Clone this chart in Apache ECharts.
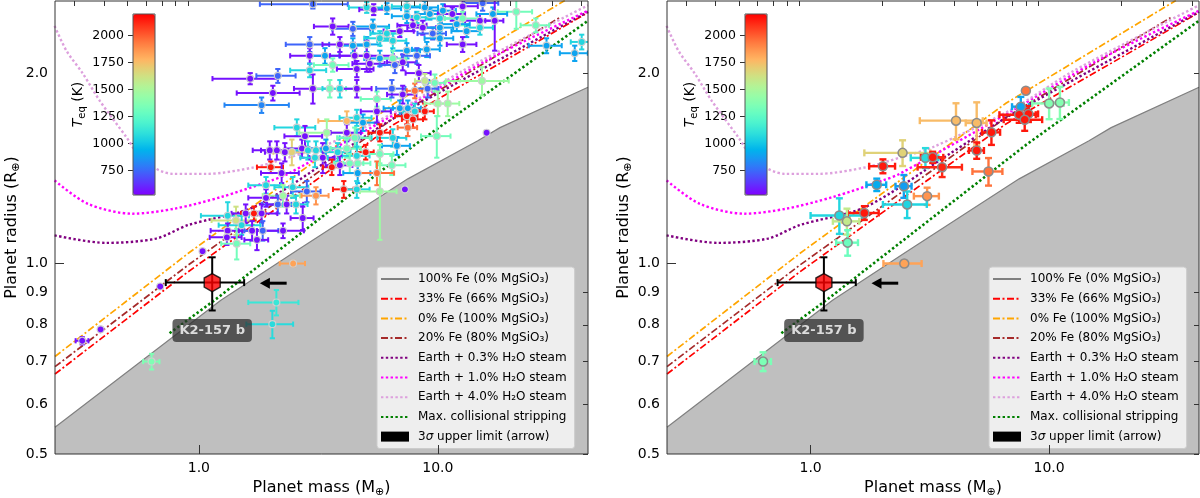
<!DOCTYPE html>
<html>
<head>
<meta charset="utf-8">
<script src="https://cdn.jsdelivr.net/npm/echarts@6/dist/echarts.min.js"></script>
<style>
  html, body { margin: 0; padding: 0; background: #fff; }
  #chart { width: 1200px; height: 498px; }
</style>
</head>
<body>
<div id="chart"></div>
<script>
// ---- model curves (mass in M_earth, radius in R_earth) ----
const feMass = [0.25, 1.236, 2.57, 7.49, 14.7, 18.2, 42.5];
const feRadius = [0.551, 0.875, 1.049, 1.361, 1.564, 1.64, 1.90];
const fe33Mass = [0.25, 0.9, 6.54, 42.5];
const fe33Radius = [0.669, 0.970, 1.659, 2.493];
const fe0Mass = [0.25, 0.9, 6.59, 34];
const fe0Radius = [0.713, 1.037, 1.792, 2.605];
const fe20Mass = [0.25, 0.9, 6.69, 32.3];
const fe20Radius = [0.687, 0.994, 1.708, 2.447];
const w03Mass = [0.249, 0.408, 0.661, 0.9, 1.71, 3.82, 7.02, 42.5];
const w03Radius = [1.108, 1.078, 1.095, 1.15, 1.23, 1.49, 1.724, 2.50];
const w1Mass = [0.249, 0.343, 0.528, 0.791, 1.24, 2.01, 2.36, 7.02, 16.2, 42.5];
const w1Radius = [1.353, 1.243, 1.199, 1.221, 1.274, 1.353, 1.386, 1.745, 2.10, 2.51];
const w4Mass = [0.249, 0.2795, 0.328, 0.385, 0.498, 0.585, 0.781, 1.077, 1.71, 2.40, 3.25, 7.02, 12.7, 42.5];
const w4Radius = [2.375, 2.168, 1.993, 1.808, 1.583, 1.454, 1.386, 1.386, 1.420, 1.473, 1.527, 1.755, 2.017, 2.56];
const stripMass = [0.754, 1.163, 8.0, 42.5];
const stripRadius = [0.776, 0.875, 1.54, 2.42];

// ---- left panel: all planets ----
const leftMass = [
  3.00, 5.04, 5.39, 6.12, 7.42, 8.82, 10.5, 12.7, 15.4, 21.3,
  7.42, 8.17, 9.26, 10.2, 11.5, 12.7, 15.0, 17.0, 17.3, 3.63,
  4.41, 5.35, 6.12, 6.93, 7.87, 8.65, 9.52, 10.2, 12.0, 13.2,
  15.0, 25.7, 2.91, 3.89, 4.41, 5.04, 5.72, 6.48, 7.42, 8.99,
  10.2, 12.7, 37.4, 40.0, 28.5, 2.91, 3.37, 4.49, 5.04, 5.72,
  6.48, 7.13, 8.17, 3.63, 4.58, 5.19, 6.61, 8.33, 1.64, 2.14,
  2.04, 1.83, 2.91, 3.00, 3.53, 3.89, 4.58, 5.56, 6.42, 7.13,
  8.01, 8.82, 9.71, 9.06, 15.3, 4.16, 4.58, 4.86, 5.56, 6.93,
  7.49, 8.01, 8.82, 7.42, 7.87, 10.0, 11.0, 2.57, 2.78, 3.43,
  4.16, 4.58, 6.48, 5.72, 7.49, 9.9, 1.98, 2.12, 2.29, 2.45,
  2.70, 2.86, 3.09, 3.40, 3.81, 4.16, 4.49, 4.99, 4.58, 6.74,
  3.30, 3.06, 2.00, 3.60, 3.89, 4.28, 4.62, 5.72, 6.42, 2.22,
  1.91, 2.47, 2.83, 4.62, 5.56, 4.04, 4.58, 5.72, 7.28, 2.25,
  1.91, 3.09, 2.14, 2.33, 2.55, 1.32, 1.43, 1.57, 1.70, 1.83,
  1.51, 1.32, 1.31, 1.44, 1.67, 1.85, 1.75, 2.25, 2.72, 16.0,
  2.48, 2.11, 2.03, 0.634, 0.325, 0.388, 0.689, 1.036
];
const leftRadius = [
  2.57, 2.54, 2.52, 2.53, 2.55, 2.54, 2.51, 2.55, 2.58, 2.50,
  2.46, 2.45, 2.48, 2.44, 2.48, 2.44, 2.42, 2.48, 2.42, 2.37,
  2.35, 2.37, 2.31, 2.33, 2.38, 2.36, 2.31, 2.36, 2.39, 2.33,
  2.36, 2.38, 2.22, 2.22, 2.21, 2.22, 2.27, 2.25, 2.17, 2.18,
  2.27, 2.22, 2.15, 2.24, 2.21, 2.13, 2.13, 2.13, 2.13, 2.11,
  2.11, 2.08, 2.13, 2.06, 2.03, 2.07, 2.06, 2.00, 1.96, 1.98,
  1.86, 1.78, 2.02, 1.89, 1.89, 1.89, 1.89, 1.82, 1.89, 1.85,
  1.875, 1.944, 1.93, 1.89, 1.944, 1.68, 1.70, 1.67, 1.74, 1.76,
  1.76, 1.74, 1.74, 1.71, 1.69, 1.79, 1.79, 1.64, 1.59, 1.61,
  1.61, 1.58, 1.58, 1.61, 1.64, 1.59, 1.51, 1.51, 1.50, 1.50,
  1.52, 1.51, 1.51, 1.52, 1.50, 1.52, 1.58, 1.50, 1.48, 1.535,
  1.47, 1.47, 1.42, 1.42, 1.43, 1.44, 1.44, 1.49, 1.43, 1.39,
  1.33, 1.32, 1.30, 1.39, 1.39, 1.31, 1.31, 1.30, 1.31, 1.28,
  1.27, 1.28, 1.24, 1.24, 1.24, 1.19, 1.17, 1.20, 1.20, 1.20,
  1.15, 1.127, 1.10, 1.075, 1.127, 1.127, 1.09, 1.127, 1.18, 1.61,
  1.00, 0.868, 0.802, 0.700, 0.755, 0.787, 0.920, 1.046
];
const leftMassErr = [
  1.2, 0.8, 0.7, 0.9, 1.0, 1.2, 1.4, 2.0, 2.5, 3.5,
  1.0, 1.0, 1.2, 1.3, 1.5, 2.0, 2.0, 2.5, 1.5, 0.6,
  0.8, 0.9, 0.9, 1.0, 1.1, 1.2, 1.3, 1.4, 1.6, 1.8,
  2.0, 3.5, 0.6, 0.6, 0.6, 0.7, 0.8, 0.9, 1.0, 1.2,
  1.4, 1.8, 5.0, 4.0, 4.5, 0.5, 0.5, 0.6, 1.5, 0.8,
  0.9, 1.0, 1.1, 0.6, 0.8, 0.8, 0.9, 1.0, 0.5, 0.4,
  0.6, 0.55, 0.5, 0.5, 0.6, 0.6, 0.7, 0.8, 0.9, 1.0,
  0.6, 0.8, 1.0, 1.0, 4.5, 1.0, 0.7, 0.7, 0.8, 1.0,
  1.0, 0.9, 0.8, 0.8, 0.8, 1.2, 1.3, 0.5, 0.5, 0.8,
  0.6, 0.7, 0.9, 0.6, 0.7, 1.4, 0.3, 0.3, 0.4, 0.4,
  0.4, 0.4, 0.4, 0.5, 0.5, 0.6, 0.7, 0.4, 0.6, 0.9,
  0.4, 0.4, 0.25, 0.3, 0.5, 0.6, 0.6, 0.8, 0.9, 0.4,
  0.3, 0.4, 0.4, 0.6, 1.0, 0.4, 0.6, 1.0, 0, 0.4,
  0.3, 0.4, 0.3, 0.4, 0.3, 0.3, 0.3, 0.2, 0.2, 0.3,
  0.3, 0.2, 0.2, 0.2, 0.2, 0.3, 0.2, 0.5, 0.3, 0,
  0.3, 0.5, 0.45, 0.05, 0.02, 0, 0, 0
];
const leftRadiusErr = [
  0.04, 0.05, 0.05, 0.05, 0.05, 0.06, 0.06, 0.07, 0.07, 0.15,
  0.06, 0.05, 0.05, 0.05, 0.06, 0.06, 0.06, 0.06, 0.25, 0.07,
  0.06, 0.06, 0.05, 0.05, 0.05, 0.06, 0.05, 0.06, 0.06, 0.05,
  0.06, 0.06, 0.06, 0.06, 0.06, 0.06, 0.06, 0.06, 0.06, 0.06,
  0.06, 0.06, 0.06, 0.06, 0.06, 0.06, 0.06, 0.06, 0.12, 0.06,
  0.06, 0.06, 0.06, 0.05, 0.06, 0.06, 0.06, 0.06, 0.04, 0.05,
  0.05, 0.05, 0.05, 0.10, 0.06, 0.06, 0.06, 0.05, 0.06, 0.06,
  0.05, 0.05, 0.06, 0.06, 0.10, 0.06, 0.05, 0.05, 0.07, 0.05,
  0.05, 0.05, 0.05, 0.05, 0.05, 0.08, 0.08, 0.05, 0.06, 0.08,
  0.05, 0.05, 0.05, 0.05, 0.05, 0.12, 0.05, 0.05, 0.05, 0.07,
  0.05, 0.05, 0.05, 0.05, 0.05, 0.05, 0.06, 0.04, 0.05, 0.05,
  0.08, 0.05, 0.03, 0.04, 0.05, 0.05, 0.05, 0.05, 0.05, 0.05,
  0.04, 0.05, 0.05, 0.05, 0.06, 0.04, 0.04, 0.21, 0, 0.05,
  0.04, 0.04, 0.04, 0.04, 0.04, 0.06, 0.06, 0.04, 0.03, 0.04,
  0.04, 0.03, 0.03, 0.06, 0.04, 0.04, 0.04, 0.03, 0.05, 0,
  0.01, 0.04, 0.04, 0.02, 0.01, 0.005, 0.005, 0.005
];
const leftTeq = [
  740, 1060, 560, 900, 1060, 900, 900, 560, 740, 1320,
  900, 1060, 900, 1060, 560, 1320, 560, 900, 560, 560,
  740, 900, 1060, 560, 560, 560, 740, 900, 900, 900,
  1060, 1320, 740, 560, 900, 900, 1060, 1060, 900, 900,
  900, 560, 900, 1060, 900, 560, 900, 560, 560, 900,
  1320, 560, 740, 1320, 560, 560, 740, 560, 560, 740,
  560, 820, 1060, 560, 1320, 1060, 560, 1320, 740, 560,
  1960, 1580, 1320, 740, 1460, 1770, 1060, 900, 560, 900,
  900, 1060, 2150, 2150, 2150, 1460, 1460, 1060, 560, 1460,
  560, 1060, 1060, 2150, 1960, 1320, 560, 560, 560, 1690,
  560, 1060, 1060, 900, 1060, 1320, 1320, 2150, 1060, 900,
  560, 1060, 2150, 2150, 560, 1320, 1320, 1320, 1320, 560,
  1060, 1060, 740, 900, 1960, 2150, 1060, 1460, 560, 1460,
  560, 1870, 740, 560, 1060, 1060, 1620, 560, 2150, 560,
  1060, 560, 560, 1320, 560, 740, 560, 560, 560, 560,
  1830, 1130, 1080, 1360, 560, 560, 560, 560
];

// ---- right panel: subsample ----
const rightMass = [7.99, 7.61, 7.49, 8.19, 7.90, 10.0, 11.1, 4.07, 4.97, 5.73, 4.97, 5.57, 2.43, 2.01,
  3.03, 3.25, 3.56, 1.894, 2.46, 3.08, 2.54, 1.32, 1.68, 1.42, 1.43, 2.47, 0.632];
const rightRadius = [1.876, 1.770, 1.719, 1.724, 1.688, 1.791, 1.797, 1.682, 1.668, 1.612, 1.509, 1.398, 1.496, 1.425,
  1.469, 1.472, 1.420, 1.332, 1.325, 1.278, 1.240, 1.191, 1.202, 1.166, 1.079, 1.000, 0.700];
const rightMassErr = [0, 0.62, 1.3, 0.8, 1.45, 1.5, 1.0, 1.2, 0.5, 0.5, 0.36, 0.8, 0.75, 0.25,
  0.4, 0.35, 0.75, 0.18, 0.19, 0.37, 0.53, 0.32, 0.25, 0.18, 0.15, 0.45, 0.05];
const rightRadiusErr = [0, 0.064, 0.05, 0.05, 0.067, 0.10, 0.105, 0.11, 0.13, 0.072, 0.045, 0.07, 0.07, 0.036,
  0.053, 0.03, 0.05, 0.03, 0.055, 0.04, 0.06, 0.077, 0.03, 0.055, 0.05, 0.01, 0.024];
const rightTeq = [1950, 900, 2150, 2150, 2150, 1380, 1380, 1760, 1760, 2150, 2150, 1950, 1680, 2150,
  1080, 2150, 2120, 920, 880, 1870, 1050, 1060, 2150, 1580, 1300, 1830, 1350];

// ---- K2-157 b and its 3 sigma mass limit ----
const k2Mass = [1.137];
const k2Radius = [0.933];
const k2MassErr = [0.41];
const k2RadiusErr = [0.09];
const arrowFrom = [2.33];
const arrowTo = [1.80];
const arrowRadius = [0.931];

// ---- ticks ----
const xLabels = [1, 10];
const xMinor = [0.3, 0.4, 0.5, 0.6, 0.7, 0.8, 0.9, 2, 3, 4, 5, 6, 7, 8, 9, 20, 30, 40];
const yLabels = [0.5, 0.6, 0.7, 0.8, 0.9, 1.0, 2.0];
const yMajor = [1];
const yMinor = [0.5, 0.6, 0.7, 0.8, 0.9, 2.0];
const teqTicks = [750, 1000, 1250, 1500, 1750, 2000];
const teqMin = 525, teqMax = 2200;

const NAMES = {
  fe: '100% Fe (0% MgSiO₃)',
  fe33: '33% Fe (66% MgSiO₃)',
  fe0: '0% Fe (100% MgSiO₃)',
  fe20: '20% Fe (80% MgSiO₃)',
  w03: 'Earth + 0.3% H₂O steam',
  w1: 'Earth + 1.0% H₂O steam',
  w4: 'Earth + 4.0% H₂O steam',
  strip: 'Max. collisional stripping',
  arrow: '3σ upper limit (arrow)'
};

const FONT = 'DejaVu Sans';
const DASHDOT = [7, 2.5, 2, 2.5];
const DOTS = [2.4, 2.4];

const pairs = (a, b) => a.map((v, i) => [v, b[i]]);
const rows = (m, r, dm, dr, t) => m.map((v, i) => [v, r[i], dm[i], dr[i], t[i]]);
const leftPoints = rows(leftMass, leftRadius, leftMassErr, leftRadiusErr, leftTeq);
const rightPoints = rows(rightMass, rightRadius, rightMassErr, rightRadiusErr, rightTeq);
const k2Points = rows(k2Mass, k2Radius, k2MassErr, k2RadiusErr, [0]);
const arrowData = arrowFrom.map((v, i) => [v, arrowTo[i], arrowRadius[i]]);

// matplotlib "rainbow" colormap stops
const rainbow = [];
for (let i = 0; i <= 20; i++) {
  const v = i / 20;
  const c = [Math.abs(2 * v - 0.5), Math.sin(Math.PI * v), Math.cos(Math.PI * v / 2)]
    .map(x => Math.round(Math.max(0, Math.min(1, x)) * 255));
  rainbow.push('rgb(' + c.join(',') + ')');
}

function errorBars(lineWidth, cap, fixedColor) {
  return function (params, api) {
    const m = api.value(0), r = api.value(1), dm = api.value(2), dr = api.value(3);
    const color = fixedColor || api.visual('color');
    const c = api.coord([m, r]);
    const style = { stroke: color, lineWidth: lineWidth };
    const kids = [];
    const seg = (x1, y1, x2, y2) => kids.push({ type: 'line', shape: { x1, y1, x2, y2 }, style });
    if (dm > 0) {
      const a = api.coord([Math.max(m - dm, m * 0.1), r])[0];
      const b = api.coord([m + dm, r])[0];
      seg(a, c[1], b, c[1]);
      seg(a, c[1] - cap, a, c[1] + cap);
      seg(b, c[1] - cap, b, c[1] + cap);
    }
    if (dr > 0) {
      const a = api.coord([m, r + dr])[1];
      const b = api.coord([m, r - dr])[1];
      seg(c[0], a, c[0], b);
      seg(c[0] - cap, a, c[0] + cap, a);
      seg(c[0] - cap, b, c[0] + cap, b);
    }
    return { type: 'group', children: kids };
  };
}

function arrowItem(params, api) {
  const a = api.coord([api.value(0), api.value(2)]);
  const b = api.coord([api.value(1), api.value(2)]);
  return {
    type: 'group',
    children: [
      { type: 'line', shape: { x1: a[0], y1: a[1], x2: b[0] + 8, y2: b[1] }, style: { stroke: '#000', lineWidth: 3 } },
      { type: 'polygon', shape: { points: [[b[0], b[1]], [b[0] + 10, b[1] - 5.5], [b[0] + 10, b[1] + 5.5]] }, style: { fill: '#000' } }
    ]
  };
}

function lineSeries(ax, name, m, r, color, dash, width, smooth) {
  return {
    type: 'line', name, ...ax, data: pairs(m, r), symbol: 'none', smooth: smooth || false,
    lineStyle: { color, type: dash, width }, itemStyle: { color }, z: 2, silent: true
  };
}

function panelSeries(p, points, big) {
  const ax = { xAxisIndex: p * 2, yAxisIndex: p * 2 };
  return [
    {
      type: 'line', name: NAMES.fe, ...ax, data: pairs(feMass, feRadius), symbol: 'none',
      lineStyle: { color: '#808080', width: 1.2 }, itemStyle: { color: '#808080' },
      areaStyle: { color: '#bfbfbf', opacity: 1, origin: 'start' }, z: 1, silent: true
    },
    lineSeries(ax, NAMES.fe33, fe33Mass, fe33Radius, '#ff0000', DASHDOT, 1.7),
    lineSeries(ax, NAMES.fe0, fe0Mass, fe0Radius, '#ffa500', DASHDOT, 1.7),
    lineSeries(ax, NAMES.fe20, fe20Mass, fe20Radius, '#a52a2a', DASHDOT, 1.7),
    lineSeries(ax, NAMES.w03, w03Mass, w03Radius, '#800080', DOTS, 2.4, 0.3),
    lineSeries(ax, NAMES.w1, w1Mass, w1Radius, '#ff00ff', DOTS, 2.4, 0.3),
    lineSeries(ax, NAMES.w4, w4Mass, w4Radius, '#dda0dd', DOTS, 2.4, 0.3),
    lineSeries(ax, NAMES.strip, stripMass, stripRadius, '#008000', DOTS, 2.6),
    {
      type: 'custom', ...ax, data: points, encode: { x: 0, y: 1 }, clip: true, z: 3, silent: true,
      renderItem: errorBars(big ? 2.4 : 2, big ? 3.5 : 2.6)
    },
    {
      type: 'scatter', ...ax, data: points, encode: { x: 0, y: 1 }, symbolSize: big ? 9 : 7, z: 4, silent: true,
      itemStyle: { borderColor: big ? '#8c8c8c' : '#d0d0d0', borderWidth: big ? 1.5 : 1.1, opacity: 1 }
    },
    {
      type: 'custom', ...ax, data: k2Points, encode: { x: 0, y: 1 }, z: 5, silent: true,
      renderItem: errorBars(2, 3.5, '#000')
    },
    {
      type: 'scatter', ...ax, data: k2Points, encode: { x: 0, y: 1 }, z: 6, silent: true,
      symbol: 'path://M0,-1L0.866,-0.5L0.866,0.5L0,1L-0.866,0.5L-0.866,-0.5Z', symbolSize: [16, 18],
      itemStyle: { color: '#ff0000', borderColor: '#000', borderWidth: 1.5 },
      label: {
        show: true, formatter: 'K2-157 b', position: 'inside', offset: [0, 48],
        color: '#fff', fontWeight: 'bold', fontSize: 13, fontFamily: FONT,
        backgroundColor: 'rgba(45,45,45,0.92)', borderRadius: 4, padding: [5, 7]
      }
    },
    {
      type: 'custom', name: NAMES.arrow, ...ax, data: arrowData, encode: { x: [0, 1], y: 2 }, z: 6, silent: true,
      itemStyle: { color: '#000' }, renderItem: arrowItem
    }
  ];
}

const leftSeries = panelSeries(0, leftPoints, false);
const rightSeries = panelSeries(1, rightPoints, true);
const perPanel = leftSeries.length;
const series = leftSeries.concat(rightSeries);

const axisText = { fontFamily: FONT, fontSize: 14, color: '#000' };
const nameStyle = {
  fontFamily: FONT, fontSize: 16, color: '#000',
  rich: { s: { fontFamily: FONT, fontSize: 11, color: '#000', padding: [9, 0, 0, 0] } }
};

function xAxes(p) {
  const base = { type: 'log', logBase: 10, gridIndex: p, min: 0.25, max: 42.5, z: 10, splitLine: { show: false }, axisLine: { show: false } };
  return [
    {
      ...base,
      axisTick: { inside: true, length: 9, customValues: xLabels, lineStyle: { color: '#333', width: 1 } },
      axisLabel: { customValues: xLabels, formatter: v => Number(v).toFixed(1), margin: 7, ...axisText },
      name: 'Planet mass (M{s|⊕})', nameLocation: 'middle', nameGap: 23, nameTextStyle: nameStyle
    },
    {
      ...base,
      axisTick: { inside: true, length: 5, customValues: xMinor, lineStyle: { color: '#333', width: 1 } },
      axisLabel: { show: false }
    }
  ];
}

function yAxes(p) {
  const base = { type: 'log', logBase: 10, gridIndex: p, min: 0.5, max: 2.6, z: 10, splitLine: { show: false }, axisLine: { show: false } };
  return [
    {
      ...base,
      axisTick: { inside: true, length: 9, customValues: yMajor, lineStyle: { color: '#333', width: 1 } },
      axisLabel: { customValues: yLabels, formatter: v => Number(v).toFixed(1), margin: 7, ...axisText },
      name: 'Planet radius (R{s|⊕})', nameLocation: 'middle', nameRotate: 90, nameGap: 31, nameTextStyle: nameStyle
    },
    {
      ...base,
      axisTick: { inside: true, length: 5, customValues: yMinor, lineStyle: { color: '#333', width: 1 } },
      axisLabel: { show: false }
    }
  ];
}

function colorbarAxis(g) {
  return {
    type: 'value', gridIndex: g, min: teqMin, max: teqMax, position: 'left',
    axisLine: { show: false }, splitLine: { show: false },
    axisTick: { customValues: teqTicks, length: 5, lineStyle: { color: '#333' } },
    axisLabel: { customValues: teqTicks, formatter: v => String(Math.round(v)), margin: 9, fontFamily: FONT, fontSize: 12.5, color: '#000' },
    name: '{t|T}{s|eq} (K)', nameLocation: 'middle', nameRotate: 90, nameGap: 46,
    nameTextStyle: {
      fontFamily: FONT, fontSize: 14, color: '#000',
      rich: {
        t: { fontFamily: FONT, fontSize: 14, fontStyle: 'italic', color: '#000' },
        s: { fontFamily: FONT, fontSize: 10, color: '#000', padding: [8, 0, 0, 0] }
      }
    }
  };
}

const legendNames = [NAMES.fe, NAMES.fe33, NAMES.fe0, NAMES.fe20, NAMES.w03, NAMES.w1, NAMES.w4, NAMES.strip];
function legendAt(left) {
  return {
    left, top: 267, orient: 'vertical', selectedMode: false, z: 10,
    itemWidth: 28, itemHeight: 10, itemGap: 5.7, padding: [5, 8, 5, 3],
    backgroundColor: 'rgba(242,242,242,0.92)', borderColor: '#cccccc', borderWidth: 1, borderRadius: 3,
    itemStyle: { opacity: 0 },
    data: legendNames.map(n => ({ name: n }))
      .concat([{ name: NAMES.arrow, icon: 'rect', itemStyle: { color: '#000', opacity: 1 } }]),
    formatter: n => n === NAMES.arrow ? '3{i|σ} upper limit (arrow)' : n,
    textStyle: {
      fontFamily: FONT, fontSize: 12, color: '#000', lineHeight: 14, padding: [0, 0, 0, 4],
      rich: { i: { fontFamily: FONT, fontSize: 12, lineHeight: 14, fontStyle: 'italic', color: '#000' } }
    }
  };
}

function visualMapAt(left, seriesIndex) {
  return {
    type: 'continuous', min: teqMin, max: teqMax, dimension: 4, seriesIndex,
    left, top: 14, itemWidth: 22, itemHeight: 181, padding: 0, calculable: false,
    inRange: { color: rainbow }, z: 4
  };
}

const gridBase = { show: true, borderWidth: 1, z: 10, backgroundColor: 'transparent', outerBoundsMode: 'none', containLabel: false };

const chart = echarts.init(document.getElementById('chart'), null, { renderer: 'canvas' });
chart.setOption({
  animation: false,
  backgroundColor: '#fff',
  grid: [
    { ...gridBase, left: 55, top: 1, width: 533, height: 453, borderColor: '#333' },
    { ...gridBase, left: 667, top: 1, width: 532, height: 453, borderColor: '#333' },
    { ...gridBase, left: 133, top: 14, width: 22, height: 181, borderColor: '#555' },
    { ...gridBase, left: 745, top: 14, width: 22, height: 181, borderColor: '#555' }
  ],
  xAxis: xAxes(0).concat(xAxes(1), [
    { type: 'value', gridIndex: 2, show: false },
    { type: 'value', gridIndex: 3, show: false }
  ]),
  yAxis: yAxes(0).concat(yAxes(1), [colorbarAxis(2), colorbarAxis(3)]),
  legend: [legendAt(377), legendAt(989)],
  visualMap: [
    visualMapAt(133, [8, 9]),
    visualMapAt(745, [perPanel + 8, perPanel + 9])
  ],
  series
});
</script>
</body>
</html>
